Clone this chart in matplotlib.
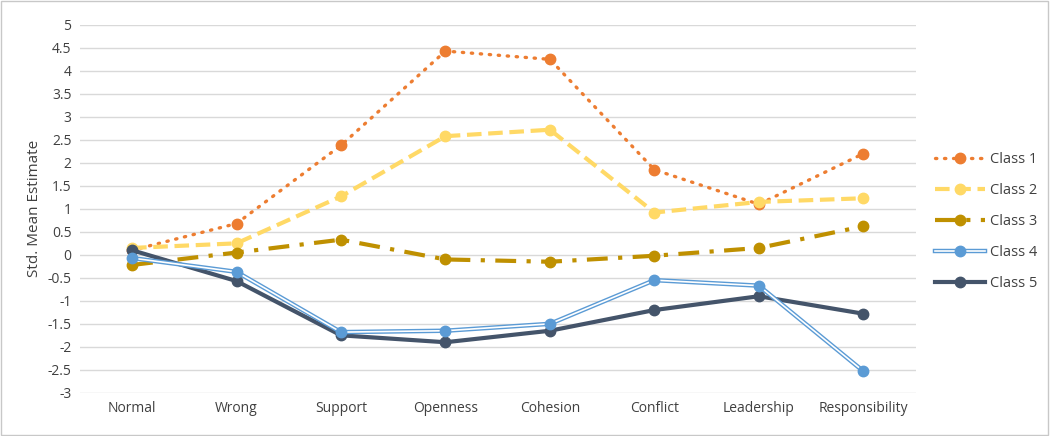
import matplotlib
matplotlib.use('Agg')
import matplotlib.pyplot as plt
from matplotlib.lines import Line2D
from matplotlib.patches import Rectangle

categories = ['Normal', 'Wrong', 'Support', 'Openness', 'Cohesion', 'Conflict', 'Leadership', 'Responsibility']
class1 = [0.10, 0.68, 2.38, 4.43, 4.25, 1.85, 1.10, 2.20]
class2 = [0.15, 0.25, 1.27, 2.58, 2.72, 0.92, 1.15, 1.23]
class3 = [-0.22, 0.05, 0.33, -0.10, -0.15, -0.02, 0.15, 0.62]
class4 = [-0.07, -0.37, -1.68, -1.65, -1.50, -0.55, -0.67, -2.53]
class5 = [0.10, -0.57, -1.75, -1.90, -1.65, -1.20, -0.90, -1.28]
yticks = [-3, -2.5, -2, -1.5, -1, -0.5, 0, 0.5, 1, 1.5, 2, 2.5, 3, 3.5, 4, 4.5, 5]

plt.rcParams['font.family'] = ['Open Sans', 'DejaVu Sans']

fig = plt.figure(figsize=(10.5, 4.36), dpi=100)
ax = fig.add_axes([0.076, 0.099, 0.796, 0.844])
x = list(range(len(categories)))

for y in yticks:
    ax.axhline(y, color='#d9d9d9', lw=1, zorder=0)

ms = 7.5
l1, = ax.plot(x, class1, color='#ED7D31', lw=2.4, linestyle=(0, (0.4, 2.3)), dash_capstyle='round',
              marker='o', ms=ms, zorder=3)
l2, = ax.plot(x, class2, color='#FFD966', lw=3, linestyle=(0, (3.5, 1.6)),
              marker='o', ms=ms, zorder=3)
l3, = ax.plot(x, class3, color='#BF9000', lw=3, linestyle=(0, (5, 2.5, 1, 2.5)),
              marker='o', ms=ms, zorder=3)
l4a, = ax.plot(x, class4, color='#5B9BD5', lw=3.2, zorder=4)
l4b, = ax.plot(x, class4, color='white', lw=1.2, zorder=4)
l4c, = ax.plot(x, class4, color='#5B9BD5', lw=0, marker='o', ms=ms, zorder=4)
l5, = ax.plot(x, class5, color='#44546A', lw=3, marker='o', ms=ms, zorder=3)

ax.set_xlim(-0.5, 7.5)
ax.set_ylim(-3, 5)
ax.set_xticks(x)
ax.set_xticklabels(categories, fontsize=10, color='#404040')
ax.set_yticks(yticks)
ax.set_yticklabels([f'{v:g}' for v in yticks], fontsize=10, color='#404040')
ax.tick_params(length=0, pad=6)
for s in ax.spines.values():
    s.set_visible(False)
ax.set_ylabel('Std. Mean Estimate', fontsize=11, color='#404040', labelpad=4)

handles = [l1, l2, l3, (l4a, l4b, l4c), l5]
labels = ['Class 1', 'Class 2', 'Class 3', 'Class 4', 'Class 5']
leg = fig.legend(handles, labels, loc='upper left', bbox_to_anchor=(0.878, 0.682),
                 frameon=False, fontsize=10.5, handlelength=3.4, labelspacing=1.1,
                 handletextpad=0.4)
for t in leg.get_texts():
    t.set_color('#404040')

fig.patches.append(Rectangle((0.001, 0.002), 0.997, 0.995, transform=fig.transFigure,
                             fill=False, edgecolor='#c8c8c8', lw=1))

fig.savefig('out.png', dpi=100, facecolor='white')
